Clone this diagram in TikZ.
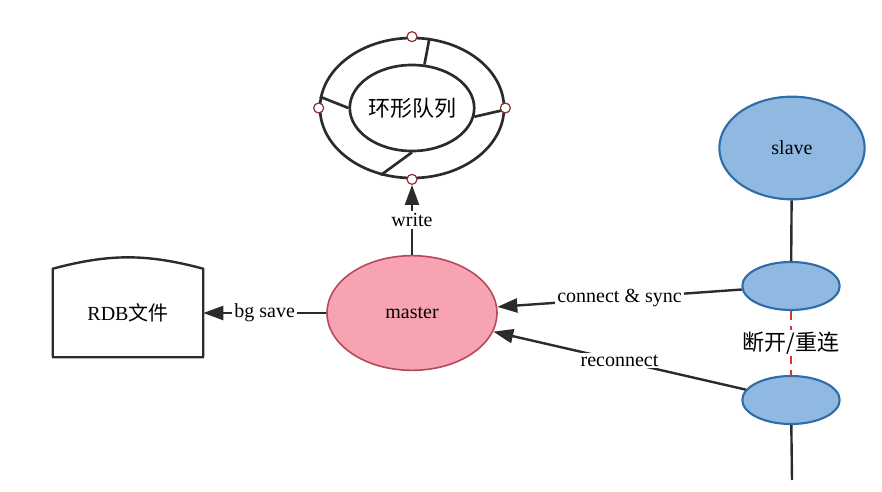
\documentclass[tikz,border=0pt]{standalone}
\usepackage{fontspec}
\setmainfont{Liberation Serif}
\newfontfamily\cjk{Noto Sans CJK SC}
\usetikzlibrary{shapes.geometric,arrows.meta}
\definecolor{linegray}{HTML}{2B2B2B}
\definecolor{portred}{HTML}{8B3030}
\definecolor{masterpink}{HTML}{F7A3B1}
\definecolor{masterred}{HTML}{B54A5C}
\definecolor{slaveblue}{HTML}{8FB9E0}
\definecolor{slaveedge}{HTML}{2F6DA8}
\definecolor{breakred}{HTML}{E0322E}

\begin{document}
\begin{tikzpicture}[x=0.75pt, y=-0.75pt, line join=bevel, font=\fontsize{15}{18}\selectfont]
    \tikzset{%
      ring_line/.style   = {ellipse, draw=linegray, line width=2pt, inner sep=0pt},
      port/.style        = {circle, draw=portred, fill=white, line width=0.9pt,
                            minimum size=7.5pt, inner sep=0pt},
      master_node/.style = {ellipse, draw=masterred, fill=masterpink, line width=1.2pt},
      slave_node/.style  = {ellipse, draw=slaveedge, fill=slaveblue, line width=1.6pt},
      plain_line/.style  = {line width=1.8pt, draw=linegray},
      link/.style        = {plain_line, -{Triangle[length=15pt,width=10.5pt]}},
      link_label/.style  = {fill=white, inner sep=1.5pt},
      cjk_text/.style    = {font=\cjk\fontsize{16.5}{18}\selectfont}
    }
    \useasboundingbox (0,0) rectangle (882,492);

    % ring buffer
    \node[ring_line, minimum width=138pt, minimum height=105pt] (ring) at (412,108) {};
    \node[ring_line, cjk_text, minimum width=90pt, minimum height=64.5pt] (queue) at (412,108) {环形队列};
    \foreach \outer/\inner in {76/74, 173/180, -1/-8, 245/270}{
      \draw[plain_line, line width=2pt] (ring.\outer) -- (queue.\inner);
    }
    \foreach \side in {north,west,east,south}{
      \node[port] (port-\side) at (ring.\side) {};
    }

    % nodes
    \node[master_node, minimum width=127.5pt, minimum height=86pt] (master) at (412,313) {master};
    \node[minimum width=112.5pt, minimum height=66pt] (rdb) at (128,313) {RDB{\cjk 文件}};
    \draw[plain_line]
      (rdb.north east) to[bend right=15] (rdb.north west) --
      (rdb.south west) -- (rdb.south east) -- cycle;
    \node[slave_node, minimum width=109pt, minimum height=77pt] (slave) at (792,148) {slave};
    \node[slave_node, minimum width=73pt, minimum height=36pt] (sync) at (791,286) {};
    \node[slave_node, minimum width=73pt, minimum height=36pt] (resync) at (791,400) {};
    \coordinate (tail) at (792,480);

    % connectors
    \draw[link] (master) -- node[link_label] {write} (port-south);
    \draw[link] (master) -- node[link_label] {bg save} (rdb);
    \draw[link] (sync) -- node[link_label] {connect \& sync} (master);
    \draw[link] (resync) -- node[link_label] {reconnect} (master);
    \draw[plain_line] (slave) -- (sync);
    \draw[plain_line] (resync) -- (tail);
    \draw[line width=1.6pt, draw=breakred, dash pattern=on 7pt off 4pt]
      (sync) -- node[link_label, cjk_text] {断开/重连} (resync);
\end{tikzpicture}
\end{document}
